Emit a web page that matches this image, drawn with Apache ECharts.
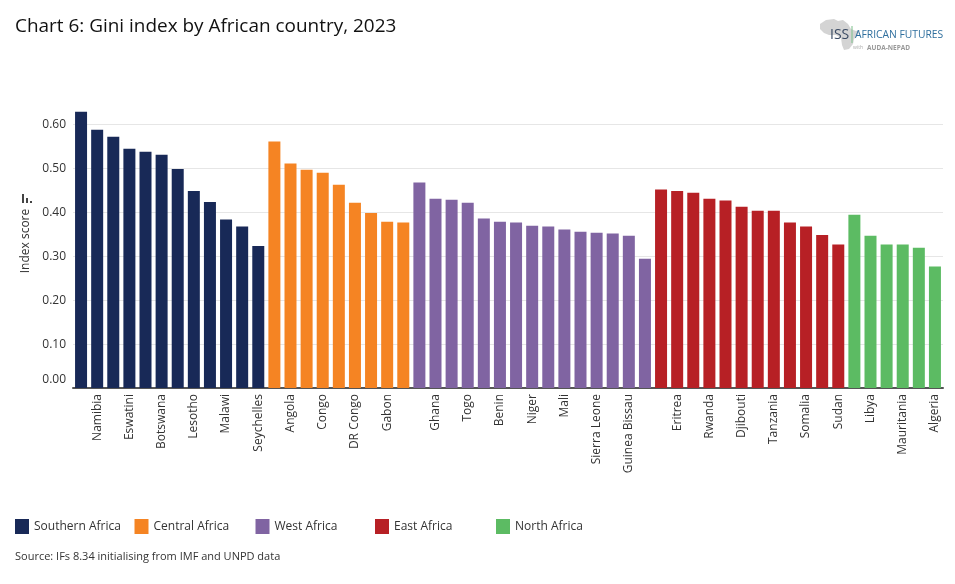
<!DOCTYPE html>
<html><head><meta charset="utf-8">
<style>html,body{margin:0;padding:0;background:#fff}#c{width:955px;height:584px}</style>
<script src="https://cdn.jsdelivr.net/npm/echarts@6/dist/echarts.min.js"></script>
</head><body><div id="c"></div>
<script>
const southernNames = ["","Namibia","","Eswatini","","Botswana","","Lesotho","","Malawi","","Seychelles"];
const southernValues = [0.628,0.587,0.571,0.544,0.537,0.530,0.498,0.448,0.423,0.383,0.367,0.323];
const centralNames = ["","Angola","","Congo","","DR Congo","","Gabon",""];
const centralValues = [0.560,0.510,0.496,0.489,0.462,0.421,0.398,0.378,0.376];
const westNames = ["","Ghana","","Togo","","Benin","","Niger","","Mali","","Sierra Leone","","Guinea Bissau",""];
const westValues = [0.467,0.430,0.428,0.421,0.385,0.378,0.376,0.369,0.367,0.360,0.355,0.353,0.351,0.346,0.294];
const eastNames = ["","Eritrea","","Rwanda","","Djibouti","","Tanzania","","Somalia","","Sudan"];
const eastValues = [0.451,0.448,0.444,0.430,0.426,0.412,0.403,0.403,0.376,0.367,0.348,0.326];
const northNames = ["","Libya","","Mauritania","","Algeria"];
const northValues = [0.394,0.346,0.326,0.326,0.319,0.276];
const yTicks = [0,0.1,0.2,0.3,0.4,0.5,0.6];
const regions = [
  {name:"Southern Africa",color:"#182957",names:southernNames,values:southernValues,left:15},
  {name:"Central Africa",color:"#f58423",names:centralNames,values:centralValues,left:134.5},
  {name:"West Africa",color:"#8064a2",names:westNames,values:westValues,left:255.5},
  {name:"East Africa",color:"#b72025",names:eastNames,values:eastValues,left:375},
  {name:"North Africa",color:"#5cbb63",names:northNames,values:northValues,left:496}
];
const categories = regions.flatMap(r=>r.names);
const FONT = '"Open Sans"';
let offset = 0;
const series = regions.map(r=>{
  const data = categories.map((_,i)=> (i>=offset && i<offset+r.values.length) ? r.values[i-offset] : null);
  offset += r.values.length;
  return {name:r.name,type:'bar',stack:'all',barWidth:12,data,itemStyle:{color:r.color},emphasis:{disabled:true},silent:true};
});
const chart = echarts.init(document.getElementById('c'),null,{renderer:'canvas'});
const africa = [[820,24],[826,20],[834,19],[838,21],[843,20],[848,24],[851,29],[856,31],[860,30],[858,35],[854,39],[853,44],[849,49],[844,50],[842,45],[841,38],[836,35],[829,35],[824,33],[820,29]];
chart.setOption({
  animation:false,
  backgroundColor:'#fff',
  textStyle:{fontFamily:FONT},
  grid:{left:73,right:12,top:102,bottom:196,containLabel:false},
  xAxis:{type:'category',data:categories,
    axisTick:{show:false},
    axisLine:{lineStyle:{color:'#555',width:2}},
    axisLabel:{interval:0,rotate:90,fontSize:12,color:'#333',margin:6,fontFamily:FONT}},
  yAxis:{type:'value',min:0,max:0.65,interval:0.1,
    name:'Index score',nameLocation:'middle',nameGap:31,nameRotate:90,
    nameTextStyle:{fontSize:12,color:'#333',fontFamily:FONT,padding:[0,0,4,8]},
    axisLine:{show:false},axisTick:{show:false},
    splitLine:{lineStyle:{color:'#e6e6e6',width:1},showMinLine:false,showMaxLine:false},
    axisLabel:{fontSize:12,color:'#333',margin:7,fontFamily:FONT,showMaxLabel:false,verticalAlignMinLabel:'bottom',
      rich:{n:{fontSize:12,color:'#333',fontFamily:FONT,padding:[2,0,0,0]},z:{fontSize:12,color:'#333',fontFamily:FONT,padding:[0,0,2,0]}},
      formatter:v=>{
        if(!yTicks.some(t=>Math.abs(t-v)<1e-6)) return '';
        return (v===0?'{z|':'{n|')+v.toFixed(2)+'}';
      }}},
  legend:regions.map(r=>({data:[r.name],left:r.left,top:519,itemWidth:14,itemHeight:15,icon:'rect',itemGap:5,padding:0,
    selectedMode:false,textStyle:{fontSize:12,color:'#333',fontFamily:FONT}})),
  series,
  graphic:[
    {type:'text',left:15,top:17,style:{text:'Chart 6: Gini index by African country, 2023',font:'18.95px "Open Sans"',fill:'#111'}},
    {type:'text',left:15,top:551,style:{text:'Source: IFs 8.34 initialising from IMF and UNPD data',font:'11px "Open Sans"',fill:'#333'}},
    {type:'rect',shape:{x:22,y:194,width:2,height:9},style:{fill:'#444'}},
    {type:'rect',shape:{x:26,y:198,width:2,height:5},style:{fill:'#444'}},
    {type:'rect',shape:{x:30,y:201,width:2,height:2},style:{fill:'#444'}},
    {type:'polygon',shape:{points:africa},style:{fill:'#d4d4d4'}},
    {type:'text',left:830,top:28,style:{text:'ISS',font:'14px "Open Sans"',fill:'#3a4a63'}},
    {type:'rect',shape:{x:851.5,y:26,width:1,height:17},style:{fill:'#7cc08a'}},
    {type:'text',left:855,top:30,style:{text:'AFRICAN FUTURES',font:'10.3px "Open Sans"',fill:'#2f6f9e'}},
    {type:'text',left:853,top:45,style:{text:'with',font:'5px "Open Sans"',fill:'#aaa'}},
    {type:'text',left:867,top:45,style:{text:'AUDA-NEPAD',font:'bold 6.5px "Open Sans"',fill:'#999'}}
  ]
});
</script></body></html>
